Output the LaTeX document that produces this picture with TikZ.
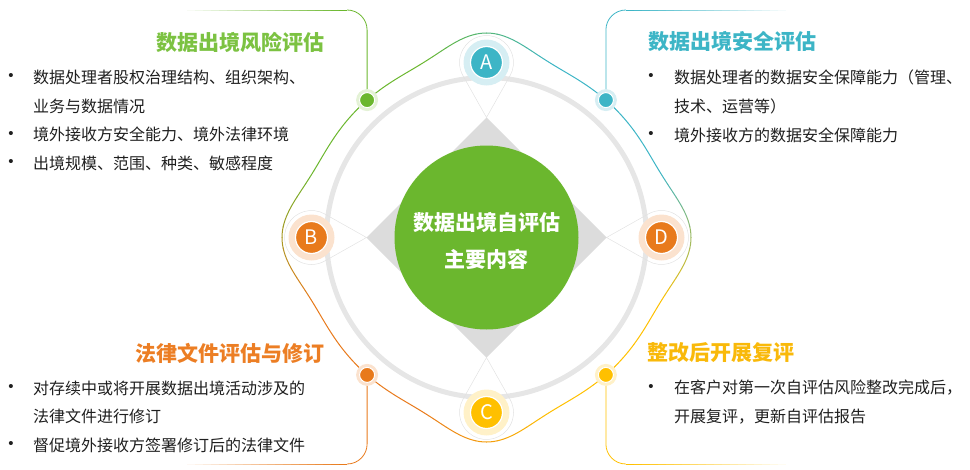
\documentclass[tikz,border=0pt]{standalone}
\usepackage{fontspec}
\setmainfont{Noto Sans CJK SC}
\newfontfamily\bulletfont{Liberation Sans}
\definecolor{cgreen}{HTML}{6BB72E}
\definecolor{hgreen}{HTML}{7CC242}
\definecolor{cteal}{HTML}{3DB5C6}
\definecolor{corange}{HTML}{E87A1C}
\definecolor{horange}{HTML}{EC7E24}
\definecolor{cyellow}{HTML}{FFC000}
\definecolor{hyellow}{HTML}{F9B90A}
\definecolor{pgreen}{HTML}{E4F2D6}
\definecolor{pteal}{HTML}{D6EEF3}
\definecolor{porange}{HTML}{FBE2CE}
\definecolor{pyellow}{HTML}{FFF1C8}
\definecolor{ringgray}{HTML}{E6E6E6}
\definecolor{dgray}{HTML}{DCDCDC}
\definecolor{pingray}{HTML}{E2E2E2}
\colorlet{qc0}{cteal}
\colorlet{qc1}{cgreen}
\colorlet{qc2}{corange}
\colorlet{qc3}{cyellow}
\begin{document}
\begin{tikzpicture}[x=1pt,y=-1pt,
  declare function={rr(\t)=182+22.5*exp(-pow((mod(\t+45,90)-45)/15,2));},
  mk/.style={circle, fill=#1, draw=white, line width=1.2pt, minimum size=32pt, inner sep=0pt, text=white, font=\fontsize{20}{20}\selectfont},
  dotn/.style={circle, fill=#1, draw=white, line width=1pt, minimum size=15pt, inner sep=0pt},
  pinline/.style={draw=pingray, line width=0.5pt},
  bul/.style={anchor=west, inner sep=0pt, font=\fontsize{16}{16}\selectfont, text=black!88},
  bdot/.style={anchor=center, inner sep=0pt, font=\bulletfont\fontsize{15}{15}\selectfont, text=black!88},
  head/.style={inner sep=0pt, font=\bfseries\fontsize{21}{21}\selectfont},
  boxline/.style={line width=0.8pt}
]
\useasboundingbox (0,0) rectangle (970,469);
\coordinate (O) at (486.5,237.5);

% gray ring
\draw[ringgray, line width=5pt] (O) circle[radius=160pt];

% pins (faint teardrop outlines)
\foreach \px/\py/\ph in {486.5/62.5/-90, 311.5/237.5/0, 486.5/412.5/90, 661.5/237.5/180}{
  \coordinate (M) at (\px,\py);
  \draw[pinline] ([shift={(\ph:55pt)}]M) -- ([shift={(\ph+60.5:27pt)}]M)
     arc[start angle=\ph+60.5, delta angle=239, radius=27pt] -- cycle;
}

% diamond
\fill[dgray] (486.5,117.5) -- (606.5,237.5) -- (486.5,357.5) -- (366.5,237.5) -- cycle;

% center circle
\node[circle, fill=cgreen, minimum size=184pt, inner sep=0pt] (center) at (O) {};
\node[text=white, font=\bfseries\fontsize{21}{21}\selectfont, inner sep=0pt] (ct1) at (486.5,222) {数据出境自评估};
\node[text=white, font=\bfseries\fontsize{21}{21}\selectfont, inner sep=0pt] (ct2) at (486.5,259) {主要内容};

% wavy contour
\foreach \a in {0,3,...,357}{
  \pgfmathsetmacro\m{\a+1.5}
  \pgfmathtruncatemacro\q{floor(\m/90)}
  \pgfmathsetmacro\t{\m-90*\q}
  \pgfmathtruncatemacro\pw{ifthenelse(\t<20, 50+2.5*\t, ifthenelse(\t>70, 50+2.5*(90-\t), 100))}
  \pgfmathtruncatemacro\qn{ifthenelse(\t<45, mod(\q+3,4), mod(\q+1,4))}
  \colorlet{segc}{qc\q!\pw!qc\qn}
  \draw[segc, line width=1pt, line cap=round] plot[domain=\a:\a+3, samples=4, variable=\x]
     ({486.5+rr(\x)*cos(\x)}, {237.5-rr(\x)*sin(\x)});
}

% box lines
\coordinate (g0) at (367.1,100.1);
\coordinate (t0) at (605.9,100.1);
\coordinate (o0) at (367.1,374.9);
\coordinate (y0) at (605.9,374.9);
\draw[cgreen, boxline] (g0) -- (367.1,30) arc[start angle=0, end angle=90, radius=20pt];
\draw[cteal, boxline] (t0) -- (605.9,30) arc[start angle=180, end angle=90, radius=20pt];
\draw[corange, boxline] (o0) -- (367.1,444) arc[start angle=0, end angle=-90, radius=20pt];
\draw[cyellow, boxline] (y0) -- (605.9,444) arc[start angle=180, end angle=270, radius=20pt];
\foreach \i in {0,...,19}{
  \pgfmathtruncatemacro\p{100-5*\i}
  \pgfmathsetmacro\xl{347.1-8*\i}
  \pgfmathsetmacro\xr{625.9+8*\i}
  \draw[cgreen!\p!white, boxline] (\xl,10) -- (\xl-8.3,10);
  \draw[corange!\p!white, boxline] (\xl,464) -- (\xl-8.3,464);
  \draw[cteal!\p!white, boxline] (\xr,10) -- (\xr+8.3,10);
  \draw[cyellow!\p!white, boxline] (\xr,464) -- (\xr+8.3,464);
}

% dots
\fill[pgreen] (g0) circle (11pt);
\fill[pteal] (t0) circle (11pt);
\fill[porange] (o0) circle (11pt);
\fill[pyellow] (y0) circle (11pt);
\node[dotn=cgreen] (g1) at (g0) {};
\node[dotn=cteal] (t1) at (t0) {};
\node[dotn=corange] (o1) at (o0) {};
\node[dotn=cyellow] (y1) at (y0) {};

% markers
\fill[pteal] (486.5,62.5) circle (23pt);
\fill[porange] (311.5,237.5) circle (23pt);
\fill[pyellow] (486.5,412.5) circle (23pt);
\fill[porange] (661.5,237.5) circle (23pt);
\node[mk=cteal] (A) at (486.5,62.5) {A};
\node[mk=corange] (B) at (311.5,237.5) {B};
\node[mk=cyellow] (C) at (486.5,412.5) {C};
\node[mk=corange] (D) at (661.5,237.5) {D};

% top-left text
\node[head, text=hgreen, anchor=east] (h1) at (325,42) {数据出境风险评估};
\node[bdot] (b11) at (11,77) {•};
\node[bul] (l11) at (33,77) {数据处理者股权治理结构、组织架构、};
\node[bul] (l12) at (33,106) {业务与数据情况};
\node[bdot] (b12) at (11,134.5) {•};
\node[bul] (l13) at (33,134.5) {境外接收方安全能力、境外法律环境};
\node[bdot] (b13) at (11,163) {•};
\node[bul] (l14) at (33,163) {出境规模、范围、种类、敏感程度};

% top-right text
\node[head, text=cteal, anchor=west] (h2) at (648,42) {数据出境安全评估};
\node[bdot] (b21) at (651,77) {•};
\node[bul] (l21) at (674,77) {数据处理者的数据安全保障能力（管理、};
\node[bul] (l22) at (674,106) {技术、运营等）};
\node[bdot] (b22) at (651,135) {•};
\node[bul] (l23) at (674,135) {境外接收方的数据安全保障能力};

% bottom-left text
\node[head, text=horange, anchor=east] (h3) at (325,353) {法律文件评估与修订};
\node[bdot] (b31) at (11,388) {•};
\node[bul] (l31) at (33,388) {对存续中或将开展数据出境活动涉及的};
\node[bul] (l32) at (33,416) {法律文件进行修订};
\node[bdot] (b32) at (11,445) {•};
\node[bul] (l33) at (33,445) {督促境外接收方签署修订后的法律文件};

% bottom-right text
\node[head, text=hyellow, anchor=west] (h4) at (647,353) {整改后开展复评};
\node[bdot] (b41) at (651,388) {•};
\node[bul] (l41) at (674,388) {在客户对第一次自评估风险整改完成后，};
\node[bul] (l42) at (674,416.5) {开展复评，更新自评估报告};
\end{tikzpicture}
\end{document}
